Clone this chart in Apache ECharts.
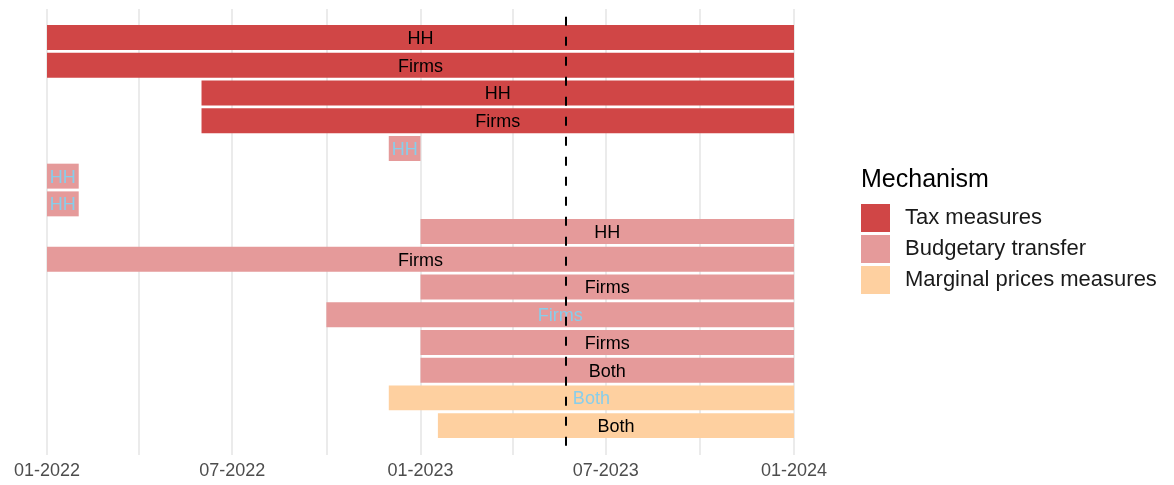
<!DOCTYPE html>
<html>
<head>
<meta charset="utf-8">
<script src="https://cdn.jsdelivr.net/npm/echarts@6/dist/echarts.min.js"></script>
<style>
html,body{margin:0;padding:0;background:#fff;}
#chart{width:1174px;height:485px;}
</style>
</head>
<body>
<div id="chart"></div>
<script>
// ---- data ----
const rowLabels = ['HH','Firms','HH','Firms','HH','HH','HH','HH','Firms','Firms','Firms','Firms','Both','Both','Both'];
const startDates = ['2022-01-01','2022-01-01','2022-06-01','2022-06-01','2022-12-01','2022-01-01','2022-01-01','2023-01-01','2022-01-01','2023-01-01','2022-10-01','2023-01-01','2023-01-01','2022-12-01','2023-01-18'];
const endDates = ['2024-01-01','2024-01-01','2024-01-01','2024-01-01','2023-01-01','2022-02-01','2022-02-01','2024-01-01','2024-01-01','2024-01-01','2024-01-01','2024-01-01','2024-01-01','2024-01-01','2024-01-01'];
const mechanisms = ['Tax measures','Tax measures','Tax measures','Tax measures',
  'Budgetary transfer','Budgetary transfer','Budgetary transfer','Budgetary transfer','Budgetary transfer',
  'Budgetary transfer','Budgetary transfer','Budgetary transfer','Budgetary transfer',
  'Marginal prices measures','Marginal prices measures'];
const labelGroup = [0,0,0,0,1,1,1,0,0,0,1,0,0,1,0];
const mechanismNames = ['Tax measures','Budgetary transfer','Marginal prices measures'];
const tickDates = ['2022-01-01','2022-07-01','2023-01-01','2023-07-01','2024-01-01'];
const minorDates = ['2022-04-01','2022-10-01','2023-04-01','2023-10-01'];
const refDate = '2023-05-23';
const axisMin = '2022-01-01';
const axisMax = '2024-01-01';

// ---- styles ----
const mechColors = {'Tax measures':'#d04646','Budgetary transfer':'#e59a9a','Marginal prices measures':'#fed0a0'};
const labelColors = ['#000000','#87ceeb'];
const FONT = '"Liberation Sans", Arial, Helvetica, sans-serif';

function ts(s){ return new Date(s + 'T00:00:00').getTime(); }
function pad(n){ return (n < 10 ? '0' : '') + n; }

const chart = echarts.init(document.getElementById('chart'), null, {renderer:'canvas'});

const barSeries = mechanismNames.map(function(m){
  const data = [];
  rowLabels.forEach(function(lab, i){
    if (mechanisms[i] === m) data.push([ts(startDates[i]), ts(endDates[i]), i + 1, i]);
  });
  return {
    name: m,
    type: 'custom',
    z: 3,
    itemStyle: {color: mechColors[m]},
    encode: {x: [0, 1], y: 2},
    data: data,
    renderItem: function(params, api){
      const idx = api.value(3);
      const row = api.value(2);
      const p0 = api.coord([api.value(0), row]);
      const p1 = api.coord([api.value(1), row]);
      const h = api.size([0, 1])[1] * 0.9;
      return {
        type: 'rect',
        shape: {x: p0[0], y: p0[1] - h / 2, width: p1[0] - p0[0], height: h},
        style: {fill: mechColors[m]},
        textContent: {
          style: {
            text: rowLabels[idx],
            fill: labelColors[labelGroup[idx]],
            fontSize: 18,
            fontFamily: FONT
          }
        },
        textConfig: {position: 'inside', offset: [0, 1.5]}
      };
    }
  };
});

const gridSeries = {
  type: 'line',
  data: [],
  silent: true,
  z: 1,
  markLine: {
    silent: true,
    z: 0,
    symbol: ['none','none'],
    label: {show: false},
    lineStyle: {color: '#ebebeb', width: 2, type: 'solid'},
    data: tickDates.concat(minorDates).map(function(d){ return {xAxis: ts(d)}; })
  }
};

const refSeries = {
  type: 'line',
  data: [],
  silent: true,
  z: 10,
  markLine: {
    silent: true,
    z: 10,
    symbol: ['none','none'],
    label: {show: false},
    lineStyle: {color: '#000000', width: 2, type: [9, 11]},
    data: [[{coord: [ts(refDate), 0.25]}, {coord: [ts(refDate), 16.06]}]]
  }
};

const option = {
  backgroundColor: '#ffffff',
  animation: false,
  title: {
    text: 'Mechanism',
    left: 861,
    top: 168,
    padding: 0,
    textStyle: {fontSize: 25, fontWeight: 'normal', color: '#000000', fontFamily: FONT}
  },
  legend: {
    orient: 'vertical',
    left: 861,
    top: 204,
    padding: 0,
    itemWidth: 29,
    itemHeight: 28,
    itemGap: 3,
    icon: 'rect',
    data: mechanismNames,
    selectedMode: false,
    textStyle: {fontSize: 22, color: '#1a1a1a', fontFamily: FONT, padding: [2, 0, 0, 10]}
  },
  grid: {left: 47, right: 380, top: 9, bottom: 30, containLabel: false},
  xAxis: {
    type: 'value',
    min: ts(axisMin),
    max: ts(axisMax),
    axisLine: {show: false},
    axisTick: {show: false},
    splitLine: {show: false},
    axisLabel: {
      customValues: tickDates.map(ts),
      hideOverlap: false,
      showMinLabel: true,
      showMaxLabel: true,
      margin: 7,
      color: '#4d4d4d',
      fontSize: 18,
      fontFamily: FONT,
      formatter: function(v){
        const d = new Date(v);
        return pad(d.getMonth() + 1) + '-' + d.getFullYear();
      }
    }
  },
  yAxis: {
    type: 'value',
    inverse: true,
    min: -0.03,
    max: 16.06,
    show: false
  },
  series: [gridSeries].concat(barSeries).concat([refSeries])
};
chart.setOption(option);
</script>
</body>
</html>
